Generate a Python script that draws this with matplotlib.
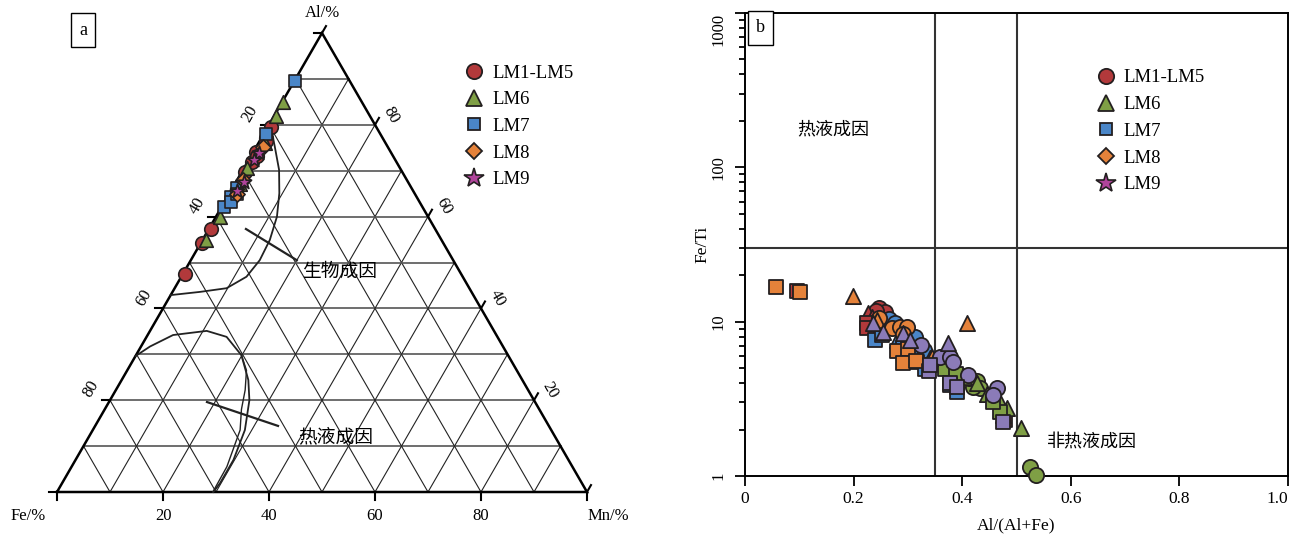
import numpy as np
import matplotlib.pyplot as plt
from matplotlib.lines import Line2D

plt.rcParams['font.family'] = ['Liberation Serif', 'Noto Sans CJK SC']
plt.rcParams['font.size'] = 11.5

# ---- panel a: Al and Mn content (%), Fe = 100 - Al - Mn ----
a_lm15_al = [79.6, 77.1, 74.1, 71.9, 73.3, 69.7, 76.5, 57.4, 54.3, 47.6]
a_lm15_mn = [0.6, 0.8, 0.5, 0.9, 1.0, 0.6, 1.1, 0.4, 0.3, 0.3]
a_lm6_al = [85.0, 81.9, 76.0, 70.6, 60.0, 54.9, 67.0]
a_lm6_mn = [0.2, 0.3, 1.2, 0.6, 0.8, 0.6, 1.0]
a_lm7_al = [89.5, 78.0, 66.2, 64.3, 62.1, 63.2, 65.0]
a_lm7_mn = [0.1, 0.4, 0.9, 0.7, 0.5, 1.2, 1.4]
a_lm8_al = [75.2, 68.0, 65.0]
a_lm8_mn = [1.3, 1.1, 1.5]
a_lm9_al = [73.8, 72.3, 67.6, 65.6]
a_lm9_mn = [1.2, 1.0, 1.4, 1.2]

# field boundaries (Mn %, Al %)
bio_mn = [0, 3.5, 6.8, 9.4, 11.5, 12.7, 13.0, 12.3, 9.8, 5.2, 0]
bio_al = [80.4, 75.2, 70.2, 65.1, 60.0, 54.9, 50.5, 46.9, 44.4, 43.6, 42.9]
hyd_mn = [0, 1.7, 4.8, 10.7, 15.1, 19.9, 23.9, 26.3, 28.7, 29.8, 29.8, 29.5]
hyd_al = [29.6, 31.7, 34.2, 35.1, 33.8, 29.8, 24.4, 20.0, 13.5, 7.0, 1.9, 0]
hyd2_mn = [19.9, 22.5, 24.4, 25.8, 27.8, 29.3, 29.4]
hyd2_al = [29.8, 26.5, 22.2, 18.0, 13.5, 5.5, 0]

# ---- panel b: Al/(Al+Fe) and Fe/Ti ----
b_red = {'o': ([0.247, 0.258, 0.241], [12.3, 11.6, 11.8]),
         '^': ([0.226, 0.233], [11.4, 10.8]),
         's': ([0.224, 0.224, 0.096, 0.478], [9.8, 9.1, 15.9, 2.3])}
b_green = {'o': ([0.525, 0.535, 0.427, 0.433, 0.420, 0.412, 0.393],
                 [1.14, 1.01, 4.1, 3.7, 3.8, 4.3, 4.6]),
           '^': ([0.509, 0.482, 0.466, 0.446, 0.427, 0.403, 0.388, 0.374, 0.476, 0.254, 0.320],
                 [2.05, 2.76, 3.2, 3.4, 4.0, 4.4, 4.8, 5.3, 2.5, 9.7, 6.0]),
           's': ([0.470, 0.456, 0.349, 0.369, 0.388],
                 [2.6, 3.0, 5.5, 4.9, 4.6])}
b_blue = {'o': ([0.265, 0.277, 0.313, 0.330], [10.4, 9.8, 7.9, 6.6]),
          '^': ([0.280, 0.301, 0.340], [7.6, 7.0, 5.8]),
          's': ([0.240, 0.252, 0.316, 0.332, 0.306, 0.390, 0.377, 0.291],
                [7.6, 8.2, 5.5, 4.9, 5.9, 3.5, 3.9, 6.8])}
b_orange = {'o': ([0.247, 0.271, 0.285, 0.298, 0.291], [10.6, 9.1, 9.2, 9.2, 8.3]),
            '^': ([0.199, 0.409, 0.345, 0.243], [14.7, 9.8, 5.9, 10.3]),
            's': ([0.057, 0.101, 0.280, 0.301, 0.291, 0.315],
                  [16.8, 15.5, 6.5, 6.7, 5.4, 5.6])}
b_purple = {'o': ([0.324, 0.359, 0.378, 0.383, 0.411, 0.464, 0.457],
                  [7.1, 5.9, 5.9, 5.5, 4.5, 3.7, 3.35]),
            '^': ([0.236, 0.254, 0.291, 0.304, 0.374], [9.8, 8.6, 8.4, 7.6, 7.3]),
            's': ([0.339, 0.378, 0.390, 0.476, 0.340], [4.8, 4.0, 3.8, 2.24, 5.2])}

x_split = [0.35, 0.5]
y_split = 30

labels = ['LM1-LM5', 'LM6', 'LM7', 'LM8', 'LM9']
c_red, c_green, c_blue = '#b2393b', '#7f9f45', '#4a86c8'
c_orange, c_purple, c_mag = '#e5823a', '#8b7bb8', '#b0449b'
edge = '#231f20'

W, H = 1291, 537
fig = plt.figure(figsize=(W / 100, H / 100), dpi=100)

# ================= ternary =================
S = 530.0
ax1 = fig.add_axes([0, 0, 645 / W, 1])
ax1.set_xlim(-57 / S, (645 - 57) / S)
ax1.set_ylim(-45 / S, 492 / S)
ax1.set_aspect('equal')
ax1.axis('off')
h = np.sqrt(3) / 2


def tern(mn, al):
    mn = np.asarray(mn, float) / 100
    al = np.asarray(al, float) / 100
    return mn + al / 2, al * h


for k in range(10, 100, 10):
    x, y = tern([0, 100 - k], [k, k])
    ax1.plot(x, y, color='#555555', lw=1.2, zorder=1)
    x, y = tern([k, k], [0, 100 - k])
    ax1.plot(x, y, color='#222222', lw=0.8, zorder=1)
    x, y = tern([100 - k, 0], [0, 100 - k])
    ax1.plot(x, y, color='#222222', lw=0.8, zorder=1)

x, y = tern([0, 100, 0, 0], [0, 0, 100, 0])
ax1.plot(x, y, color='black', lw=1.8, zorder=2, solid_joinstyle='miter')

# tick marks and labels
tl = 8 / S
for v in [0, 20, 40, 60, 80, 100]:
    bx, by = tern(v, 0)
    ax1.plot([bx, bx], [by, by - tl], color='black', lw=1.5)
    lx, ly = tern(0, 100 - v)
    ax1.plot([lx, lx - tl], [ly, ly], color='black', lw=1.5)
    rx, ry = tern(100 - v, v)
    ax1.plot([rx, rx + tl * 0.5], [ry, ry + tl * h], color='black', lw=1.5)
for v in [20, 40, 60, 80]:
    bx, by = tern(v, 0)
    ax1.text(bx, by - 24 / S, str(v), ha='center', va='center', fontsize=12)
    lx, ly = tern(0, 100 - v)
    ax1.text(lx - 19 / S, ly + 11 / S, str(v), ha='center', va='center',
             rotation=60, fontsize=12)
    rx, ry = tern(100 - v, v)
    ax1.text(rx + 16 / S, ry + 10 / S, str(v), ha='center', va='center',
             rotation=-60, fontsize=12)

ax1.text(0.5, h + 20 / S, 'Al/%', ha='center', va='center', fontsize=12)
ax1.text(-29 / S, -24 / S, 'Fe/%', ha='center', va='center', fontsize=12)
ax1.text(1 + 21 / S, -24 / S, 'Mn/%', ha='center', va='center', fontsize=12)

# fields
x, y = tern(bio_mn, bio_al)
ax1.plot(x, y, color='#222222', lw=1.3, zorder=2)
x, y = tern(hyd_mn, hyd_al)
ax1.plot(x, y, color='#222222', lw=1.3, zorder=2)
x, y = tern(hyd2_mn, hyd2_al)
ax1.plot(x, y, color='#222222', lw=1.0, zorder=2)
x, y = tern([7.0, 20.0], [57.3, 50.5])
ax1.plot(x, y, color='#222222', lw=1.6, zorder=2)
x, y = tern([18.5, 34.5], [19.6, 14.4])
ax1.plot(x, y, color='#222222', lw=1.6, zorder=2)
x, y = tern(29.4, 47.9)
ax1.text(x, y, '生物成因', ha='center', va='center', fontsize=13.5)
x, y = tern(46.5, 12.0)
ax1.text(x, y, '热液成因', ha='center', va='center', fontsize=13.5)

kw = dict(edgecolors=edge, linewidths=1.2, zorder=5, clip_on=False)
x, y = tern(a_lm15_mn, a_lm15_al)
ax1.scatter(x, y, s=95, marker='o', color=c_red, **kw)
x, y = tern(a_lm6_mn, a_lm6_al)
ax1.scatter(x, y, s=95, marker='^', color=c_green, **kw)
x, y = tern(a_lm7_mn, a_lm7_al)
ax1.scatter(x, y, s=75, marker='s', color=c_blue, **kw)
x, y = tern(a_lm8_mn, a_lm8_al)
ax1.scatter(x, y, s=60, marker='D', color=c_orange, **kw)
x, y = tern(a_lm9_mn, a_lm9_al)
ax1.scatter(x, y, s=115, marker='*', color=c_mag, **kw)

ax1.text(83 / S - 57 / S, (492 - 30) / S, 'a', ha='center', va='center', fontsize=13,
         bbox=dict(boxstyle='square,pad=0.45', fc='white', ec='black', lw=1))

# ================= Fe/Ti vs Al/(Al+Fe) =================
ax2 = fig.add_axes([745 / W, 61 / H, 543 / W, 463 / H])
ax2.set_yscale('log')
ax2.set_xlim(0, 1)
ax2.set_ylim(1, 1000)
for sp in ax2.spines.values():
    sp.set_linewidth(1.4)
ax2.tick_params(which='both', direction='out', top=False, right=False, width=1.3)
ax2.tick_params(which='major', length=7, labelsize=12.5)
ax2.tick_params(which='minor', length=4)
ax2.tick_params(axis='y', which='major', pad=6, labelsize=12)
ax2.set_xticks([0, 0.2, 0.4, 0.6, 0.8, 1.0])
xtl = ax2.set_xticklabels(['0', '0.2', '0.4', '0.6', '0.8', '1.0'])
xtl[-1].set_ha('right')
ax2.set_yticks([1, 10, 100, 1000])
ytl = ax2.set_yticklabels(['1', '10', '100', '1000'], rotation=90, va='center')
ytl[-1].set_va('top')
ax2.set_xlabel('Al/(Al+Fe)', fontsize=12.5, labelpad=8)
ax2.set_ylabel('Fe/Ti', fontsize=12.5, labelpad=0)

for xv in x_split:
    ax2.axvline(xv, color='#333333', lw=1.5, zorder=1)
ax2.axhline(y_split, color='#333333', lw=1.5, zorder=1)

groups = [(b_red, c_red), (b_green, c_green), (b_blue, c_blue),
          (b_orange, c_orange), (b_purple, c_purple)]
sizes = {'o': 120, '^': 120, 's': 105}
for data, col in groups:
    for m, (xs, ys) in data.items():
        ax2.scatter(xs, ys, s=sizes[m], marker=m, color=col, edgecolors=edge,
                    linewidths=1.3, zorder=4, clip_on=False)

ax2.text(0.097, 175, '热液成因', ha='left', va='center', fontsize=13)
ax2.text(0.556, 1.64, '非热液成因', ha='left', va='center', fontsize=13)
ax2.text(0.028, 800, 'b', ha='center', va='center', fontsize=13,
         bbox=dict(boxstyle='square,pad=0.45', fc='white', ec='black', lw=1))

# legends
handles = [
    Line2D([], [], ls='none', marker='o', ms=11, mfc=c_red, mec=edge, mew=1.3),
    Line2D([], [], ls='none', marker='^', ms=12, mfc=c_green, mec=edge, mew=1.3),
    Line2D([], [], ls='none', marker='s', ms=9, mfc=c_blue, mec=edge, mew=1.3),
    Line2D([], [], ls='none', marker='D', ms=8, mfc=c_orange, mec=edge, mew=1.3),
    Line2D([], [], ls='none', marker='*', ms=15, mfc=c_mag, mec=edge, mew=1.2),
]
lkw = dict(frameon=False, fontsize=13.5, labelspacing=0.51, handletextpad=0.25,
           handlelength=1.4, borderpad=0, loc='upper left')
fig.legend(handles, labels, bbox_to_anchor=(452 / W, 1 - 55 / H), **lkw)
fig.legend(handles, labels, bbox_to_anchor=(1083 / W, 1 - 60 / H), **lkw)

fig.savefig('out.png', dpi=100)
